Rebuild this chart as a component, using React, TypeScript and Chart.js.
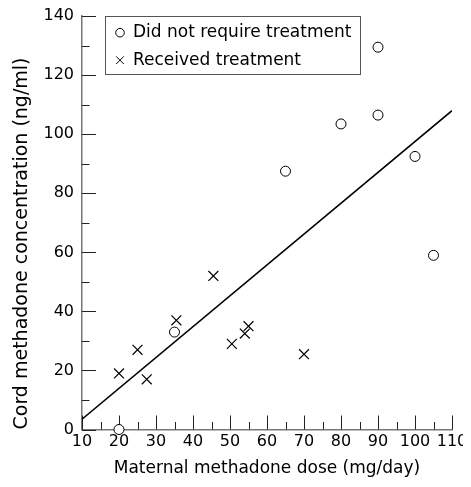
import React, { useEffect, useRef } from 'react';
import { Chart, registerables } from 'chart.js';

Chart.register(...registerables);

// ---- data ----
const noTreatmentDose = [20, 35, 65, 80, 90, 90, 100, 105];
const noTreatmentConc = [0, 33, 87.5, 103.5, 106.5, 129.5, 92.5, 59];
const treatedDose = [20, 25, 27.5, 35.5, 45.5, 50.5, 54, 55, 70];
const treatedConc = [19, 27, 17, 37, 52, 29, 32.5, 35, 25.5];
const fitDose = [10, 110];
const fitConc = [3.5, 108];
const legendLabels = ['Did not require treatment', 'Received treatment'];
const xTitle = 'Maternal methadone dose (mg/day)';
const yTitle = 'Cord methadone concentration (ng/ml)';
const xMin = 10, xMax = 110, xStep = 10;
const yMin = 0, yMax = 140, yStep = 20;

const FONT = 'DejaVu Sans';

const axisTicks = {
  id: 'axisTicks',
  beforeDatasetsDraw(chart: any) {
    const { ctx, chartArea } = chart;
    const x = chart.scales.x, y = chart.scales.y;
    ctx.save();
    ctx.strokeStyle = '#222';
    ctx.lineWidth = 1;
    for (let v = xMin; v <= xMax + 1e-9; v += xStep / 2) {
      const major = Math.abs(((v - xMin) / xStep) - Math.round((v - xMin) / xStep)) < 1e-6;
      const px = Math.round(x.getPixelForValue(v)) + 0.5;
      const len = major ? 14 : 7.5;
      ctx.beginPath();
      ctx.moveTo(px, chartArea.bottom);
      ctx.lineTo(px, chartArea.bottom - len);
      ctx.stroke();
    }
    for (let v = yMin; v <= yMax + 1e-9; v += yStep / 2) {
      const major = Math.abs(((v - yMin) / yStep) - Math.round((v - yMin) / yStep)) < 1e-6;
      const py = Math.round(y.getPixelForValue(v)) + 0.5;
      const len = major ? 14 : 7.5;
      ctx.beginPath();
      ctx.moveTo(chartArea.left, py);
      ctx.lineTo(chartArea.left + len, py);
      ctx.stroke();
    }
    ctx.restore();
  },
};

const boxLegend = {
  id: 'boxLegend',
  afterDraw(chart: any) {
    const { ctx, chartArea } = chart;
    const left = chartArea.left + 23;
    const top = chartArea.top;
    const w = 255, h = 58;
    ctx.save();
    ctx.fillStyle = '#fff';
    ctx.fillRect(left, top, w, h);
    ctx.strokeStyle = '#555';
    ctx.lineWidth = 1;
    ctx.strokeRect(Math.round(left) + 0.5, Math.round(top) + 0.5, w, h);
    ctx.fillStyle = '#000';
    ctx.font = `17px "${FONT}"`;
    ctx.textBaseline = 'middle';
    ctx.textAlign = 'left';
    const symX = left + 15;
    const textX = left + 28;
    const rows = [top + 16.5, top + 44];
    ctx.strokeStyle = '#000';
    ctx.beginPath();
    ctx.arc(symX, rows[0], 4.3, 0, Math.PI * 2);
    ctx.stroke();
    ctx.fillText(legendLabels[0], textX, rows[0]);
    ctx.beginPath();
    ctx.moveTo(symX - 3.8, rows[1] - 3.8);
    ctx.lineTo(symX + 3.8, rows[1] + 3.8);
    ctx.moveTo(symX + 3.8, rows[1] - 3.8);
    ctx.lineTo(symX - 3.8, rows[1] + 3.8);
    ctx.stroke();
    ctx.fillText(legendLabels[1], textX, rows[1]);
    ctx.restore();
  },
};

export default function App() {
  const ref = useRef<HTMLCanvasElement>(null);
  useEffect(() => {
    Chart.defaults.font.family = FONT;
    Chart.defaults.color = '#000';
    const chart = new Chart(ref.current as HTMLCanvasElement, {
      type: 'scatter',
      data: {
        datasets: [
          {
            type: 'line',
            label: 'fit',
            data: fitDose.map((x, i) => ({ x, y: fitConc[i] })),
            borderColor: '#000',
            borderWidth: 1.6,
            pointRadius: 0,
            fill: false,
            order: 3,
          } as any,
          {
            label: legendLabels[0],
            data: noTreatmentDose.map((x, i) => ({ x, y: noTreatmentConc[i] })),
            pointStyle: 'circle',
            pointRadius: 5,
            borderColor: '#000',
            backgroundColor: '#fff',
            borderWidth: 1,
            clip: false,
            order: 1,
          } as any,
          {
            label: legendLabels[1],
            data: treatedDose.map((x, i) => ({ x, y: treatedConc[i] })),
            pointStyle: 'crossRot',
            pointRadius: 7,
            borderColor: '#000',
            backgroundColor: '#000',
            borderWidth: 1.2,
            clip: false,
            order: 2,
          } as any,
        ],
      },
      options: {
        animation: false,
        responsive: true,
        maintainAspectRatio: false,
        layout: { padding: { top: 8, right: 11, left: 0, bottom: 0 } },
        plugins: { legend: { display: false }, tooltip: { enabled: false } },
        scales: {
          x: {
            type: 'linear',
            min: xMin,
            max: xMax,
            ticks: { stepSize: xStep, font: { size: 16 }, color: '#000', padding: 3, maxRotation: 0 },
            grid: { display: false, drawTicks: false },
            border: { display: true, color: '#777', width: 1.5 },
            title: { display: true, text: xTitle, font: { size: 17 }, color: '#000', padding: 0 },
            afterFit(s: any) {
              s.height = 49.5;
              s.paddingLeft = 0;
              s.paddingRight = 0;
            },
          },
          y: {
            type: 'linear',
            min: yMin,
            max: yMax,
            ticks: { stepSize: yStep, font: { size: 16 }, color: '#000', padding: 8 },
            grid: { display: false, drawTicks: false },
            border: { display: true, color: '#777', width: 1.5 },
            title: { display: true, text: yTitle, font: { size: 19 }, color: '#000', padding: 3, align: 'start' },
            afterFit(s: any) {
              s.width = 74;
              s.paddingTop = 0;
              s.paddingBottom = 0;
            },
          },
        },
      } as any,
      plugins: [axisTicks, boxLegend],
    });
    return () => chart.destroy();
  }, []);
  return (
    <div style={{ position: 'relative', width: 455, height: 471 }}>
      <canvas ref={ref} />
    </div>
  );
}
